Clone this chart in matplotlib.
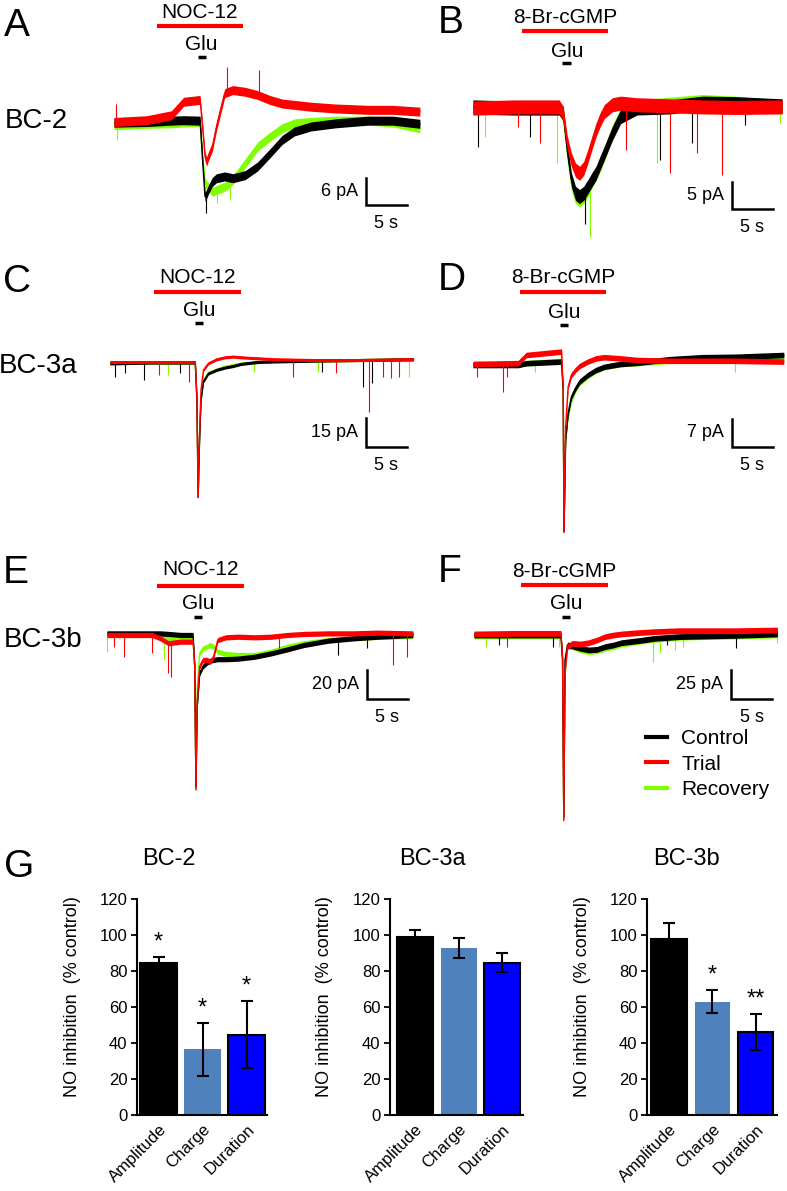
import numpy as np
import matplotlib.pyplot as plt
from matplotlib.lines import Line2D

plt.rcParams['font.family'] = ['Liberation Sans', 'DejaVu Sans']

W, H = 787, 1191          # figure size in pixels (dpi 100)
PX_PER_S = 8.2            # horizontal trace scale (5 s bar = 41 px)

# ---------------- traces: time (s), current (pA) ----------------
# A: BC-2 / NOC-12
t_A = [0, 4, 7, 8.5, 10.5, 10.8, 11.1, 11.3, 11.5, 12, 12.5, 13.5, 14.5, 16, 17.5, 19,
       20.5, 22, 24, 27, 31, 34, 37.3]
ctrl_A = [-0.15, 0, 0.3, 0.4, 0.3, -8.4, -16.6, -16.0, -15.1, -13.3, -12.5, -12.1, -12.5,
          -11.8, -9.9, -7.0, -4.0, -2.1, -1.0, -0.3, 0.3, 0.3, -0.4]
trial_A = [0, 0.4, 1.5, 4.5, 4.9, -1.0, -7.7, -8.8, -7.7, -5.5, -1.0, 6.4, 7.1, 6.7, 6.0,
           4.9, 4.1, 3.8, 3.4, 3.0, 2.7, 2.7, 2.3]
rec_A = [-0.7, -0.4, -0.3, -0.1, 0, -7.7, -13.6, -14.0, -14.4, -15.5, -15.1, -14.4, -12.9,
         -9.2, -5.5, -3.3, -1.4, -0.3, 0, 0.3, 0.3, -0.1, -1.4]
spikes_A = {'Control': [(11.2, -20.3)],
            'Trial': [(0.3, 4.1), (13.8, 12.3), (17.7, 11.6)],
            'Recovery': [(0.4, -4.0), (12.6, -18.0), (14.2, -17.3)]}

# B: BC-2 / 8-Br-cGMP
t_B = [0, 5, 10.5, 11, 11.5, 12, 12.5, 13, 13.5, 14, 14.5, 15, 15.5, 16, 17, 18, 20, 24,
       28, 32, 37.7]
ctrl_B = [0.2, 0, 0, -1.0, -7.8, -13.3, -15.8, -16.4, -15.8, -14.6, -13.3, -12.1, -10.2,
          -8.4, -4.7, -1.6, 0, 0.2, 0.9, 0.8, 0.4]
trial_B = [0, 0.2, 0.2, -1.0, -6.5, -9.6, -11.5, -12.1, -11.2, -9.0, -6.5, -4.1, -2.2,
           -0.7, 0.6, 0.9, 0.6, 0.4, 0.2, 0.1, 0.2]
rec_B = [0, 0, 0, -1.3, -8.4, -14.0, -16.4, -17.0, -16.4, -15.2, -13.6, -12.1, -10.6,
         -8.7, -4.4, -1.3, 0.2, 0.7, 1.2, 0.9, 0.2]
spikes_B = {'Control': [(0.65, -7.2), (7.0, -5.3), (13.7, -21.4), (22.8, -9.6),
                        (26.7, -6.5), (33.2, -3.1)],
            'Trial': [(5.5, -3.5), (8.2, -6.5), (18.7, -7.8), (24.0, -12.1),
                      (27.3, -8.4), (30.4, -12.4)],
            'Recovery': [(1.5, -5.3), (10.2, -10.2), (14.3, -23.8), (22.4, -10.2),
                         (37.4, -2.8)]}

# C: BC-3a / NOC-12
t_C = [0, 5, 10.4, 10.6, 10.75, 10.9, 11.1, 11.4, 12, 13, 14, 15, 16, 18, 20, 25, 30, 37]
ctrl_C = [-0.7, -0.3, -0.3, -19.7, -70, -43.8, -19.7, -10, -5.9, -4.1, -2.9, -2.1, -1.0,
          0, 0.3, 0.7, 1.0, 1.4]
trial_C = [0, 0, 0, -18, -70, -40, -14.5, -4.1, -0.7, 1.4, 2.4, 2.8, 2.4, 1.9, 1.4, 1.0,
           1.0, 1.4]
rec_C = [-0.7, -0.3, -0.3, -18.9, -64.8, -40.3, -18, -9.3, -5.5, -3.8, -2.4, -1.6, -0.7,
         0, 0.3, 0.7, 1.0, 1.4]
spikes_C = {'Control': [(0.6, -7.6), (1.8, -5.9), (4.1, -9.3), (8.5, -5.9), (25.8, -5.0),
                        (30.8, -12.8), (31.9, -11.0)],
            'Trial': [(6.0, -6.7), (9.6, -10.2), (22.3, -7.6), (27.6, -5.9), (31.6, -25.7),
                      (33.3, -7.6), (34.3, -8.4), (35.2, -7.6)],
            'Recovery': [(7.1, -6.7), (17.5, -5.0), (25.4, -5.0), (36.5, -7.6)]}

# D: BC-3a / 8-Br-cGMP
t_D = [0, 5.5, 6.5, 10.8, 11.0, 11.1, 11.3, 11.6, 12, 12.5, 13, 14, 15, 16, 18, 20, 24,
       28, 32, 37.9]
ctrl_D = [-0.25, -0.25, 0.2, 0.6, -6.5, -42, -19, -12.3, -8.2, -6.1, -4.4, -2.75, -1.5,
          -0.7, 0, 0.3, 1.2, 1.7, 1.8, 2.25]
trial_D = [0, 0.2, 2.25, 3.1, -6.5, -42, -15.7, -5.7, -2.75, -1.5, -0.5, 0.6, 1.4, 1.7,
           1.4, 1.0, 0.8, 0.8, 0.8, 0.6]
rec_D = [0, 0, 0.2, 0.8, -6.5, -40, -17.3, -13.2, -9.0, -6.5, -4.8, -3.0, -1.7, -0.8, 0,
         0.2, 0.8, 1.2, 1.4, 1.7]
spikes_D = {'Control': [],
            'Trial': [(0.45, -3.2), (3.6, -6.9), (4.1, -3.2)],
            'Recovery': [(7.6, -1.9), (32.0, -1.9)]}

# E: BC-3b / NOC-12
t_E = [0, 5.5, 6.5, 7.5, 9, 10.5, 10.7, 10.85, 11.0, 11.3, 11.7, 12.2, 12.6, 13, 13.5,
       14.5, 16, 18, 20, 22, 24, 27, 30, 33, 37.3]
ctrl_E = [1.8, 1.8, 1.8, 1.4, 0.7, 0.7, -21, -104, -48.7, -25.7, -21, -18.4, -17, -16.5,
          -16, -16, -15.6, -14.3, -12, -9.2, -6.2, -3.2, -1.6, -0.5, 0.7]
trial_E = [0.7, 0.7, -1.6, -5.0, -3.9, -3.9, -21, -106, -44, -21, -16.5, -16.5, -17.7,
           -14.3, -2.8, -0.9, -0.5, -0.9, -0.5, 0.7, 1.4, 1.8, 1.8, 2.3, 1.8]
rec_E = [0.7, 0.7, -0.5, -2.3, -2.8, -2.8, -21, -106, -35, -12, -8.5, -7.4, -6.2, -7.4,
         -10.8, -12.4, -13.1, -13.1, -10.8, -7.4, -5.0, -2.8, -1.6, -0.5, 0]
spikes_E = {'Control': [(28.2, -13.1), (31.7, -8.5)],
            'Trial': [(0.8, -7.4), (2.1, -14.3), (5.5, -12.0), (7.5, -25.7), (7.8, -28.0),
                      (21.0, -8.5), (34.9, -20.0), (36.6, -14.3)],
            'Recovery': [(0.05, -10.8), (6.9, -16.6)]}

# F: BC-3b / 8-Br-cGMP
t_F = [0, 5, 10.6, 10.8, 10.95, 11.1, 11.4, 12, 13, 14, 15, 16, 17, 18, 20, 22, 25, 28,
       32, 37]
ctrl_F = [0, 0, 0, -21.6, -157, -21.6, -8.6, -9.5, -11.5, -12.9, -12.4, -10, -8.6, -6.6,
          -4.9, -2.9, -1.4, -0.9, -0.3, 0.9]
trial_F = [0.9, 1.4, 1.4, -18.7, -160, -33, -10, -7.2, -7.8, -6.6, -4.3, -1.4, 0, 0.9,
           2.0, 2.9, 3.7, 3.7, 3.7, 4.3]
rec_F = [-0.9, -0.9, -0.9, -21.6, -158, -24, -9.5, -10.1, -12.9, -14.4, -13.5, -11.5,
         -10.1, -7.8, -5.7, -3.7, -2.0, -1.4, -0.9, 0]
spikes_F = {'Control': [(3.0, -8.6), (9.6, -10.0), (23.5, -8.6), (32.0, -11.5)],
            'Trial': [(4.0, -10.0)],
            'Recovery': [(1.5, -10.0), (10.4, -10.0), (21.8, -23.0), (22.7, -15.8),
                         (24.5, -12.9), (25.5, -10.0), (36.9, -7.2)]}

cells = ['BC-2', 'BC-3a', 'BC-3b']
drug_names = ['NOC-12', '8-Br-cGMP', 'NOC-12', '8-Br-cGMP', 'NOC-12', '8-Br-cGMP']
drug_window = [(5.2, 15.7), (6.0, 16.5), (5.4, 16.0), (5.7, 16.2), (6.1, 16.7), (5.7, 16.3)]
glu_window = [(10.2, 11.2), (10.9, 12.0), (10.4, 11.3), (10.6, 11.6), (10.6, 11.6), (10.7, 11.7)]
scale_pA = [6, 5, 15, 7, 20, 25]
scale_s = 5

# ---------------- bar chart (G) ----------------
measures = ['Amplitude', 'Charge', 'Duration']
bc2_mean = [84.4, 36.5, 44.6]
bc2_err = [3.4, 14.7, 18.6]
bc2_sig = ['*', '*', '*']
bc3a_mean = [99.0, 93.0, 84.6]
bc3a_err = [4.0, 5.5, 5.4]
bc3a_sig = ['', '', '']
bc3b_mean = [97.8, 62.8, 46.1]
bc3b_err = [8.9, 6.4, 10.0]
bc3b_sig = ['', '*', '**']

COLORS = {'Control': '#000000', 'Trial': '#ff0000', 'Recovery': '#80ff00'}
bar_colors = ['#000000', '#4f81bd', '#0000ff']
bar_edges = ['#000000', 'none', '#000000']

fig = plt.figure(figsize=(W / 100, H / 100), dpi=100)


def fx(x):
    return x / W


def fy(y):
    return 1 - y / H


# pixel layout of each trace panel
layout = [
    dict(letter='A', x0=114, base=122, sb=(366, 205), sb_px=27, bar=26, txt=18, gtxt=50, gbar=57, lxy=(4, 36), noise=1.0),
    dict(letter='B', x0=473, base=108, sb=(732, 209), sb_px=27, bar=31, txt=23, gtxt=57, gbar=63, lxy=(438, 33), noise=1.3),
    dict(letter='C', x0=110, base=362, sb=(366, 447), sb_px=29, bar=292, txt=283, gtxt=316, gbar=323, lxy=(3, 292), noise=0.8),
    dict(letter='D', x0=473, base=364, sb=(732, 447), sb_px=28, bar=292, txt=283, gtxt=318, gbar=325, lxy=(438, 290), noise=0.7),
    dict(letter='E', x0=107, base=636, sb=(367, 699), sb_px=29, bar=586, txt=575, gtxt=609, gbar=617, lxy=(3, 583), noise=1.8),
    dict(letter='F', x0=474, base=635, sb=(731, 699), sb_px=29, bar=585, txt=577, gtxt=609, gbar=617, lxy=(438, 582), noise=2.5),
]
traces = [(t_A, ctrl_A, trial_A, rec_A, spikes_A),
          (t_B, ctrl_B, trial_B, rec_B, spikes_B),
          (t_C, ctrl_C, trial_C, rec_C, spikes_C),
          (t_D, ctrl_D, trial_D, rec_D, spikes_D),
          (t_E, ctrl_E, trial_E, rec_E, spikes_E),
          (t_F, ctrl_F, trial_F, rec_F, spikes_F)]

for i, (p, tr) in enumerate(zip(layout, traces)):
    t, ctrl, trial, rec, spikes = tr
    ppa = p['sb_px'] / scale_pA[i]          # pixels per pA
    base = p['base']
    ax = fig.add_axes([fx(p['x0']), fy(base + 200), 320 / W, 330 / H])
    ax.set_xlim(0, 320 / PX_PER_S)
    ax.set_ylim(-200 / ppa, 130 / ppa)
    ax.axis('off')

    def py(ypx):
        return (base - ypx) / ppa

    for name, vals, z in [('Recovery', rec, 1), ('Control', ctrl, 2), ('Trial', trial, 3)]:
        c = COLORS[name]
        v = np.asarray(vals, dtype=float)
        ax.fill_between(t, v - p['noise'], v + p['noise'], color=c, lw=0, zorder=z)
        ax.plot(t, v, color=c, lw=1.0, zorder=z)
        if spikes[name]:
            st, tip = zip(*spikes[name])
            ax.vlines(st, tip, np.interp(st, t, v), color=c, lw=0.8, zorder=z)

    # drug and glutamate application bars
    on, off = drug_window[i]
    ax.plot([on, off], [py(p['bar'])] * 2, color='#ff0000', lw=3, solid_capstyle='butt', clip_on=False)
    ax.text((on + off) / 2, py(p['txt']), drug_names[i], ha='center', va='baseline', fontsize=15)
    g_on, g_off = glu_window[i]
    ax.plot([g_on, g_off], [py(p['gbar'])] * 2, color='black', lw=2.5, solid_capstyle='butt', clip_on=False)
    ax.text((g_on + g_off) / 2, py(p['gtxt']), 'Glu', ha='center', va='baseline', fontsize=15)

    # scale bar
    ts = (p['sb'][0] - p['x0']) / PX_PER_S
    ys = py(p['sb'][1])
    ax.plot([ts, ts, ts + scale_s], [ys + scale_pA[i], ys, ys], color='black', lw=1.8,
            solid_joinstyle='miter')
    ax.annotate(f'{scale_pA[i]} pA', (ts, ys + scale_pA[i] / 2), xytext=(-6, 0),
                textcoords='offset points', ha='right', va='center', fontsize=13)
    ax.annotate(f'{scale_s} s', (ts + scale_s / 2, ys), xytext=(0, -13),
                textcoords='offset points', ha='center', va='center', fontsize=13)

    fig.text(fx(p['lxy'][0]), fy(p['lxy'][1]), p['letter'], ha='left', va='baseline', fontsize=28)

# row labels
for lab, (x, y) in zip(cells, [(5, 128), (-1, 373), (4, 647)]):
    fig.text(fx(x), fy(y), lab, ha='left', va='baseline', fontsize=20)

# legend
handles = [Line2D([], [], color=COLORS[n], lw=3) for n in ['Control', 'Trial', 'Recovery']]
fig.legend(handles, ['Control', 'Trial', 'Recovery'], loc='upper left',
           bbox_to_anchor=(fx(646), fy(729)), frameon=False, fontsize=15,
           handlelength=1.0, handletextpad=0.7, labelspacing=0.32, borderpad=0, borderaxespad=0)

# ---------------- G: bar charts ----------------
fig.text(fx(4), fy(877), 'G', ha='left', va='baseline', fontsize=28)
bar_layout = [(137, 267, 158.5, 44.0, 169), (390, 523, 415, 43.7, 432), (647, 777, 669, 43.3, 686)]
stats = [(bc2_mean, bc2_err, bc2_sig), (bc3a_mean, bc3a_err, bc3a_sig), (bc3b_mean, bc3b_err, bc3b_sig)]
for cell, (left, right, c0, step, tx), (mean, err, sig) in zip(cells, bar_layout, stats):
    ax = fig.add_axes([fx(left), fy(1115), (right - left) / W, 216 / H])
    x = np.arange(len(measures))
    ax.bar(x, mean, width=0.82, color=bar_colors, edgecolor=bar_edges, linewidth=1.5)
    ax.errorbar(x, mean, yerr=err, fmt='none', ecolor='black', elinewidth=1.5, capsize=4, capthick=1.5)
    for xi, m, e, s in zip(x, mean, err, sig):
        if s:
            ax.text(xi, m + e + 2, s, ha='center', va='bottom', fontsize=17)
    ax.set_xlim((left - c0) / step, (right - c0) / step)
    ax.set_ylim(0, 120)
    ax.set_yticks(range(0, 121, 20))
    ax.set_xticks(x, measures, rotation=45, ha='right', rotation_mode='anchor', fontsize=12)
    ax.tick_params(axis='x', length=0, pad=5)
    ax.tick_params(axis='y', length=4, width=1.3, labelsize=12, pad=3)
    for s in ['top', 'right']:
        ax.spines[s].set_visible(False)
    for s in ['left', 'bottom']:
        ax.spines[s].set_linewidth(1.5)
    ax.set_ylabel('NO inhibition  (% control)', fontsize=13)
    ax.yaxis.set_label_coords(-0.43, 0.55)
    fig.text(fx(tx), fy(865), cell, ha='center', va='baseline', fontsize=17)

fig.savefig('out.png', dpi=100)
